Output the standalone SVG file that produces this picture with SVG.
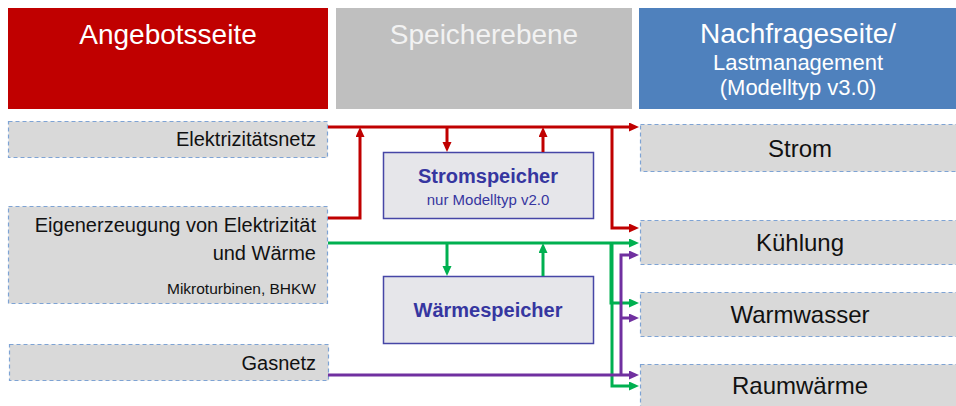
<svg xmlns="http://www.w3.org/2000/svg" width="956" height="406" viewBox="0 0 956 406">
  <style>
    text { font-family: "Liberation Sans", Arial, sans-serif; }
    .hdr { font-size: 28px; fill: #ffffff; text-anchor: middle; }
    .hdr-sub { font-size: 22px; fill: #ffffff; text-anchor: middle; }
    .box { fill: #d9d9d9; stroke: #7ea3d4; stroke-width: 1.2; stroke-dasharray: 4 3; }
    .lbl-r { font-size: 20px; fill: #111111; text-anchor: end; }
    .lbl-s { font-size: 15.5px; fill: #111111; text-anchor: end; }
    .lbl-c { font-size: 24px; fill: #111111; text-anchor: middle; }
    .store { fill: #e6e6ea; stroke: #4646a6; stroke-width: 1.5; }
    .store-t { font-size: 20px; font-weight: bold; fill: #3636a0; text-anchor: middle; }
    .store-s { font-size: 15px; fill: #3636a0; text-anchor: middle; }
    .c { fill: none; stroke-width: 3; stroke-linejoin: miter; }
    .red { stroke: #c00000; }
    .green { stroke: #00b050; }
    .purple { stroke: #7030a0; }
  </style>
  <defs>
    <marker id="ar" markerUnits="userSpaceOnUse" markerWidth="10" markerHeight="10" refX="4" refY="4.5" orient="auto">
      <path d="M0,0 L10,4.5 L0,9 z" fill="#c00000"/>
    </marker>
    <marker id="ag" markerUnits="userSpaceOnUse" markerWidth="10" markerHeight="10" refX="4" refY="4.5" orient="auto">
      <path d="M0,0 L10,4.5 L0,9 z" fill="#00b050"/>
    </marker>
    <marker id="ap" markerUnits="userSpaceOnUse" markerWidth="10" markerHeight="10" refX="4" refY="4.5" orient="auto">
      <path d="M0,0 L10,4.5 L0,9 z" fill="#7030a0"/>
    </marker>
  </defs>

  <!-- column headers -->
  <g id="hdr-angebot">
    <rect x="8" y="8" width="320" height="101" fill="#c00000"/>
    <text class="hdr" x="168" y="44">Angebotsseite</text>
  </g>
  <g id="hdr-speicher">
    <rect x="336" y="8" width="296" height="101" fill="#bfbfbf"/>
    <text class="hdr" x="484" y="44" style="fill:#f2f2f2">Speicherebene</text>
  </g>
  <g id="hdr-nachfrage">
    <rect x="639" y="8" width="320" height="101" fill="#4f81bd"/>
    <text class="hdr" x="798" y="43">Nachfrageseite/</text>
    <text class="hdr-sub" x="798" y="70">Lastmanagement</text>
    <text class="hdr-sub" x="798" y="95">(Modelltyp v3.0)</text>
  </g>

  <!-- supply side -->
  <g id="elektrizitaetsnetz">
    <rect class="box" x="8.5" y="121.5" width="319" height="36"/>
    <text class="lbl-r" x="316" y="146">Elektrizitätsnetz</text>
  </g>
  <g id="eigenerzeugung">
    <rect class="box" x="8.5" y="206.5" width="319" height="97"/>
    <text class="lbl-r" x="316" y="232">Eigenerzeugung von Elektrizität</text>
    <text class="lbl-r" x="316" y="260">und Wärme</text>
    <text class="lbl-s" x="316" y="294">Mikroturbinen, BHKW</text>
  </g>
  <g id="gasnetz">
    <rect class="box" x="9.5" y="344.5" width="319" height="36"/>
    <text class="lbl-r" x="316" y="370">Gasnetz</text>
  </g>

  <!-- storage level -->
  <g id="stromspeicher">
    <rect class="store" x="383.5" y="152.5" width="210" height="66"/>
    <text class="store-t" x="488" y="183">Stromspeicher</text>
    <text class="store-s" x="488" y="205">nur Modelltyp v2.0</text>
  </g>
  <g id="waermespeicher">
    <rect class="store" x="383.5" y="276.5" width="210" height="67"/>
    <text class="store-t" x="488" y="317">Wärmespeicher</text>
  </g>

  <!-- demand side -->
  <g id="strom">
    <rect class="box" x="640.5" y="124.5" width="330" height="47"/>
    <text class="lbl-c" x="800" y="157">Strom</text>
  </g>
  <g id="kuehlung">
    <rect class="box" x="640.5" y="220.5" width="330" height="44"/>
    <text class="lbl-c" x="800" y="251">Kühlung</text>
  </g>
  <g id="warmwasser">
    <rect class="box" x="640.5" y="292.5" width="330" height="44"/>
    <text class="lbl-c" x="800" y="323">Warmwasser</text>
  </g>
  <g id="raumwaerme">
    <rect class="box" x="640.5" y="364.5" width="330" height="46"/>
    <text class="lbl-c" x="800" y="394">Raumwärme</text>
  </g>

  <!-- flows -->
  <g id="connectors">
    <!-- electricity -->
    <path class="c red" d="M328,127 H633" marker-end="url(#ar)"/>
    <path class="c red" d="M328,218 H360 V133" marker-end="url(#ar)"/>
    <path class="c red" d="M447,127 V146" marker-end="url(#ar)"/>
    <path class="c red" d="M543,152 V133" marker-end="url(#ar)"/>
    <path class="c red" d="M612,127 V228 H633" marker-end="url(#ar)"/>
    <!-- heat -->
    <path class="c green" d="M328,243 H633" marker-end="url(#ag)"/>
    <path class="c green" d="M447,243 V270" marker-end="url(#ag)"/>
    <path class="c green" d="M543,276 V249" marker-end="url(#ag)"/>
    <path class="c green" d="M611,243 V303 H633" marker-end="url(#ag)"/>
    <path class="c green" d="M612,243 V386 H633" marker-end="url(#ag)"/>
    <!-- gas -->
    <path class="c purple" d="M328,375 H633" marker-end="url(#ap)"/>
    <path class="c purple" d="M621,375 V255 H633" marker-end="url(#ap)"/>
    <path class="c purple" d="M621,318 H633" marker-end="url(#ap)"/>
  </g>
</svg>
